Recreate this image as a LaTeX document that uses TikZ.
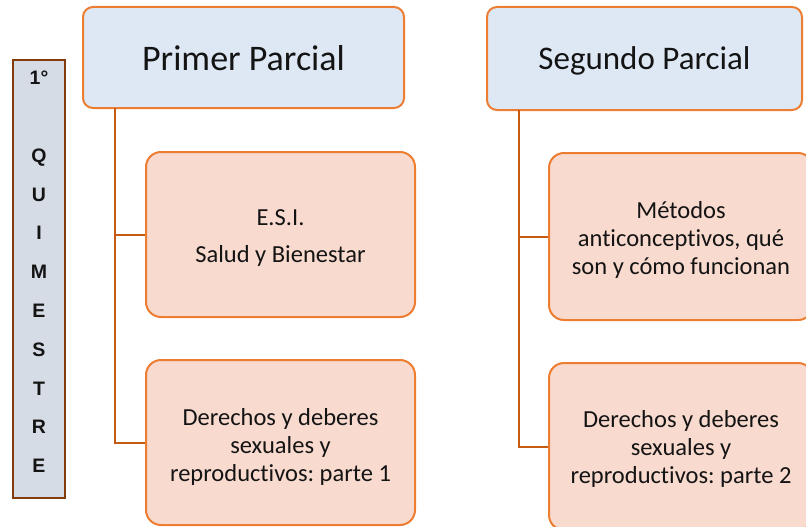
\documentclass[tikz,border=0pt]{standalone}
\usepackage{fontspec}
\setmainfont{Carlito}[Ligatures=NoCommon]
\newfontfamily\barfont{Liberation Sans}
\frenchspacing
\definecolor{hdrfill}{HTML}{DEE8F4}
\definecolor{chfill}{HTML}{F8DACF}
\definecolor{bord}{HTML}{ED7D31}
\definecolor{conn}{HTML}{C55A11}
\definecolor{barfill}{HTML}{D6DCE5}
\definecolor{barbord}{HTML}{843C0C}
\definecolor{txt}{HTML}{141414}
\tikzset{
  hdr/.style={draw=bord, fill=hdrfill, line width=2pt, rounded corners=10pt, inner sep=0pt},
  child/.style={draw=bord, fill=chfill, line width=2pt, rounded corners=15pt, inner sep=0pt},
  ctext/.style={inner sep=0pt, align=center, text=txt, font=\fontsize{24.5}{28}\selectfont},
  htext/.style={inner sep=0pt, align=center, text=txt},
  link/.style={draw=conn, line width=2pt},
  barbox/.style={draw=barbord, fill=barfill, line width=2.5pt, inner sep=0pt}
}
\begin{document}
\begin{tikzpicture}[x=1pt,y=-1pt]
\useasboundingbox (0,0) rectangle (806,527);
\clip (0,0) rectangle (806,527);
% left bar
\node[barbox, minimum width=52pt, minimum height=438pt] (bar) at (39,279) {};
\node[align=center, inner sep=0pt, text=txt, font=\barfont\bfseries\fontsize{19.5}{38.8}\selectfont] (bartext) at (39,272) {1°\\\mbox{}\\Q\\U\\I\\M\\E\\S\\T\\R\\E};
% headers
\node[hdr, minimum width=321pt, minimum height=101pt] (h1) at (243.5,57.5) {};
\node[htext, font=\fontsize{36}{40}\selectfont] (h1t) at ([yshift=-0.5pt]h1.center) {Primer Parcial};
\node[hdr, minimum width=315pt, minimum height=103pt] (h2) at (644.5,58.5) {};
\node[htext, font=\fontsize{33}{38}\selectfont] (h2t) at ([yshift=-2.5pt]h2.center) {Segundo Parcial};
% children
\node[child, minimum width=269pt, minimum height=165pt] (c1) at (280.5,234.5) {};
\node[ctext] (c1t) at ([yshift=-3.5pt]c1.center) {E.S.I.\\[9pt]Salud y Bienestar};
\node[child, minimum width=269pt, minimum height=165pt] (c2) at (280.5,442.5) {};
\node[ctext] (c2t) at ([yshift=-4.5pt]c2.center) {Derechos y deberes\\sexuales y\\reproductivos: parte 1};
\node[child, minimum width=264pt, minimum height=167pt] (c3) at (681,236.5) {};
\node[ctext] (c3t) at ([yshift=-3.5pt]c3.center) {Métodos\\anticonceptivos, qué\\son y cómo funcionan};
\node[child, minimum width=264pt, minimum height=167pt] (c4) at (681,446.5) {};
\node[ctext] (c4t) at ([yshift=-2.5pt]c4.center) {Derechos y deberes\\sexuales y\\reproductivos: parte 2};
% connectors
\coordinate (j1) at (115,108);
\coordinate (j2) at (519,110);
\draw[link] (j1) |- (c1.west);
\draw[link] (j1) |- (c2.west);
\draw[link] (j2) |- (c3.west);
\draw[link] (j2) |- (c4.west);
\end{tikzpicture}
\end{document}
